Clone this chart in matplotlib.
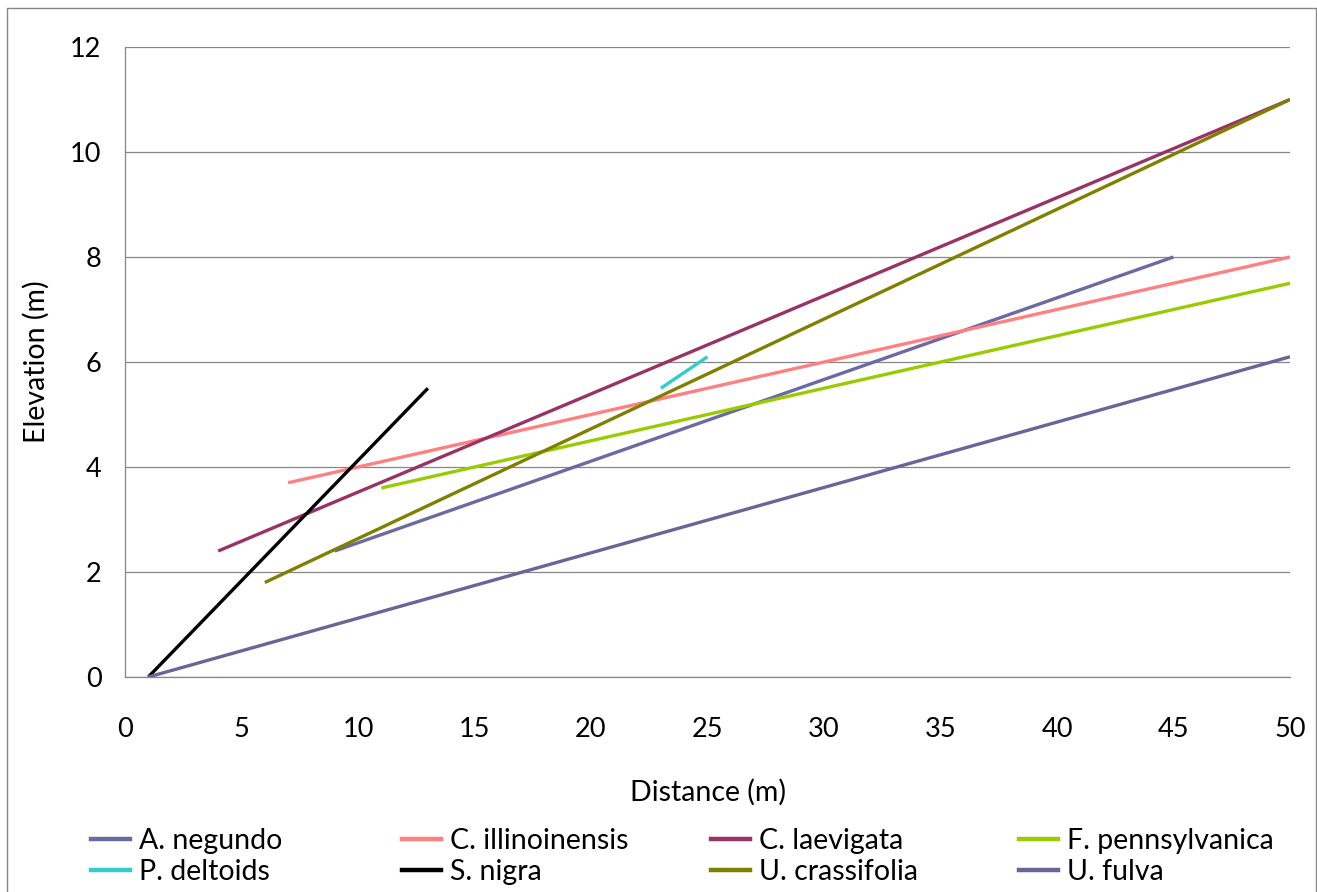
import matplotlib.pyplot as plt
from matplotlib.lines import Line2D
from matplotlib.patches import Rectangle

# species and the start / end points of each trend line
species = ['A. negundo', 'C. illinoinensis', 'C. laevigata', 'F. pennsylvanica',
           'P. deltoids', 'S. nigra', 'U. crassifolia', 'U. fulva']
x_start = [9, 7, 4, 11, 23, 1, 6, 1]
x_end = [45, 50, 50, 50, 25, 13, 50, 50]
y_start = [2.4, 3.7, 2.4, 3.6, 5.5, 0, 1.8, 0]
y_end = [8, 8, 11, 7.5, 6.1, 5.5, 11, 6.1]
colors = ['#6a6aa4', '#ff8080', '#993366', '#99cc00',
          '#33cccc', '#000000', '#808000', '#666699']

x_ticks = list(range(0, 51, 5))
y_ticks = list(range(0, 13, 2))

plt.rcParams['font.family'] = ['Lato', 'DejaVu Sans']

fig = plt.figure(figsize=(13.17, 8.92), dpi=100)
ax = fig.add_axes([125 / 1317, 1 - 677 / 892, (1290 - 125) / 1317, (677 - 47) / 892])

for i in range(len(species)):
    ax.plot([x_start[i], x_end[i]], [y_start[i], y_end[i]],
            color=colors[i], lw=2.4, solid_capstyle='butt', zorder=3)

ax.set_xlim(0, 50)
ax.set_ylim(0, 12)
ax.set_xticks(x_ticks)
ax.set_yticks(y_ticks)
ax.tick_params(length=0, labelsize=19.5, colors='black')
ax.tick_params(axis='x', pad=29)
ax.tick_params(axis='y', pad=17)
ax.grid(axis='y', color='#868686', lw=0.9)
ax.set_axisbelow(True)
for s in ['top', 'right']:
    ax.spines[s].set_visible(False)
for s in ['left', 'bottom']:
    ax.spines[s].set_color('#868686')
    ax.spines[s].set_linewidth(0.9)

ax.set_xlabel('Distance (m)', fontsize=20.5)
ax.xaxis.set_label_coords(0.5, -(779 - 677) / 630)
ax.set_ylabel('Elevation (m)', fontsize=20.5)
ax.yaxis.set_label_coords(-(125 - 50) / 1165, 0.5)

# legend: 4 columns x 2 rows, row-major like the reference
col_x = [91, 402, 711, 1019]
for c in range(4):
    handles = [Line2D([], [], color=colors[c], lw=3.2),
               Line2D([], [], color=colors[c + 4], lw=3.2)]
    labels = [species[c], species[c + 4]]
    fig.legend(handles, labels, loc='upper left',
               bbox_to_anchor=(col_x[c] / 1317, 1 - 828 / 892),
               frameon=False, fontsize=20.5, handlelength=1.37,
               handletextpad=0.3, labelspacing=0.18,
               borderpad=0, borderaxespad=0)

# outer chart border
fig.patches.append(Rectangle((7 / 1317, -0.01), (1316 - 7) / 1317, 1 - 8 / 892 + 0.01,
                             transform=fig.transFigure, fill=False,
                             edgecolor='#868686', lw=1))

fig.savefig('out.png', dpi=100)
